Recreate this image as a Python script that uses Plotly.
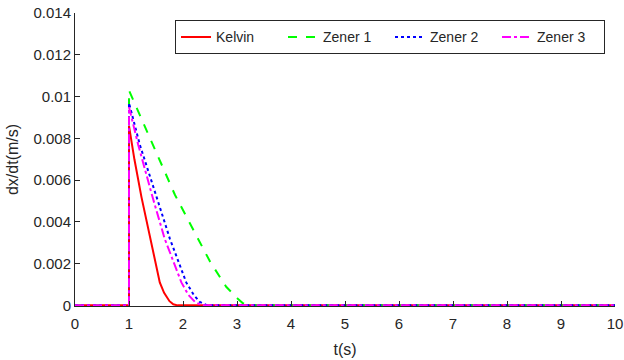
import plotly.graph_objects as go

# Data
t_kelvin = [0, 1.0, 1.0, 1.1, 1.23, 1.39, 1.57, 1.65, 1.75, 1.82, 1.9, 10]
v_kelvin = [0, 0, 0.0086, 0.0070, 0.0052, 0.0032, 0.0011, 0.0006, 0.0002, 0.00005, 0, 0]

t_zener1 = [0, 1.0, 1.0, 1.42, 1.85, 2.5, 2.8, 3.02, 3.1, 3.2, 10]
v_zener1 = [0, 0, 0.0103, 0.0078, 0.0053, 0.0021, 0.00089, 0.0003, 0.00012, 0, 0]

t_zener2 = [0, 1.0, 1.0, 1.2, 1.51, 1.756, 2.06, 2.2, 2.31, 2.45, 10]
v_zener2 = [0, 0, 0.0097, 0.0077, 0.0052, 0.0032, 0.0011, 0.0005, 0.00017, 0, 0]

t_zener3 = [0, 1.0, 1.0, 1.17, 1.435, 1.66, 1.97, 2.1, 2.22, 2.35, 10]
v_zener3 = [0, 0, 0.0095, 0.0077, 0.0052, 0.0032, 0.0011, 0.0005, 0.00017, 0, 0]

series_names = ["Kelvin", "Zener 1", "Zener 2", "Zener 3"]
x_ticks = [0, 1, 2, 3, 4, 5, 6, 7, 8, 9, 10]
y_ticks = [0, 0.002, 0.004, 0.006, 0.008, 0.01, 0.012, 0.014]
y_tick_labels = ["0", "0.002", "0.004", "0.006", "0.008", "0.01", "0.012", "0.014"]

styles = [
    dict(color="#ff0000", dash="solid"),
    dict(color="#00ff00", dash="dash"),
    dict(color="#0000ff", dash="dot"),
    dict(color="#ff00ff", dash="dashdot"),
]

data = [(t_kelvin, v_kelvin), (t_zener1, v_zener1), (t_zener2, v_zener2), (t_zener3, v_zener3)]

fig = go.Figure()
for (t, v), name, st in zip(data, series_names, styles):
    fig.add_trace(go.Scatter(x=t, y=v, mode="lines", name=name,
                             line=dict(color=st["color"], dash=st["dash"], width=2)))

axis_color = "#262626"
font_family = "Liberation Sans, Arial, sans-serif"

fig.update_layout(
    width=624, height=360,
    margin=dict(l=75, r=9, t=13, b=54, autoexpand=False),
    paper_bgcolor="white", plot_bgcolor="white",
    font=dict(family=font_family, size=15, color=axis_color),
    showlegend=True,
    legend=dict(orientation="h", x=0.9815, xanchor="right", y=0.975, yanchor="top",
                bordercolor="#262626", borderwidth=1, bgcolor="white",
                font=dict(size=14, color="#262626"), entrywidth=62,
                tracegroupgap=0),
    xaxis=dict(range=[0, 10], tickvals=x_ticks, ticks="inside", ticklen=5,
               tickcolor=axis_color, showline=True, linecolor=axis_color, linewidth=1,
               showgrid=False, zeroline=False, mirror=False, automargin=False,
               ticklabelstandoff=4,
               title=dict(text="t(s)", font=dict(size=16), standoff=12)),
    yaxis=dict(range=[-0.00003, 0.01401], tickvals=y_ticks, ticktext=y_tick_labels,
               ticks="inside", ticklen=5, tickcolor=axis_color,
               showline=True, linecolor=axis_color, linewidth=1,
               showgrid=False, zeroline=False, mirror=False, automargin=False,
               title=dict(text="dx/dt(m/s)", font=dict(size=16), standoff=10)),
)

fig.write_html("out.html", config={"displayModeBar": False},
               post_script="document.body.style.margin='0';")
